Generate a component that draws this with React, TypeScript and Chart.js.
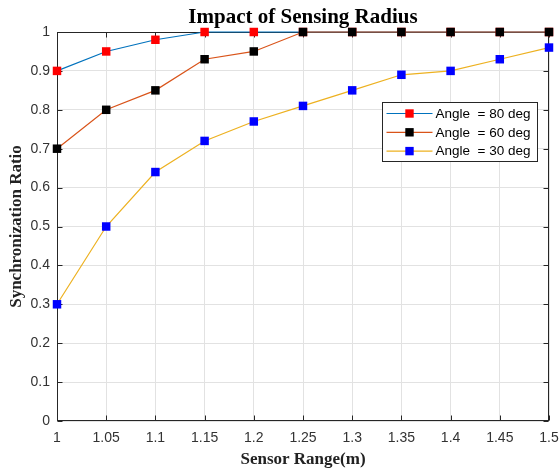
import React, { useEffect, useRef } from 'react';
import { Chart, registerables } from 'chart.js';

Chart.register(...registerables);

const xLabels = ['1', '1.05', '1.1', '1.15', '1.2', '1.25', '1.3', '1.35', '1.4', '1.45', '1.5'];
const angle80 = [0.9, 0.95, 0.98, 1, 1, 1, 1, 1, 1, 1, 1];
const angle60 = [0.7, 0.8, 0.85, 0.93, 0.95, 1, 1, 1, 1, 1, 1];
const angle30 = [0.3, 0.5, 0.64, 0.72, 0.77, 0.81, 0.85, 0.89, 0.9, 0.93, 0.96];
const seriesLabels = ['Angle  = 80 deg', 'Angle  = 60 deg', 'Angle  = 30 deg'];
const yTickValues = [0, 0.1, 0.2, 0.3, 0.4, 0.5, 0.6, 0.7, 0.8, 0.9, 1];
const yTickLabels = ['0', '0.1', '0.2', '0.3', '0.4', '0.5', '0.6', '0.7', '0.8', '0.9', '1'];
const chartTitle = 'Impact of Sensing Radius';
const xTitle = 'Sensor Range(m)';
const yTitle = 'Synchronization Ratio';

const lineColors = ['#0072BD', '#D95319', '#EDB120'];
const markerColors = ['#FF0000', '#000000', '#0000FF'];
const AXIS = '#262626';
const SANS = '"Liberation Sans", Arial, sans-serif';
const SERIF = '"Liberation Serif", "Times New Roman", serif';

const titlePlugin = {
  id: 'matlabTitle',
  afterDraw(chart: any) {
    const { ctx, chartArea } = chart;
    ctx.save();
    ctx.fillStyle = '#000';
    ctx.font = `bold 21px ${SERIF}`;
    ctx.textAlign = 'center';
    ctx.textBaseline = 'alphabetic';
    ctx.fillText(chartTitle, (chartArea.left + chartArea.right) / 2, 23);
    ctx.restore();
  },
};

const boxPlugin = {
  id: 'matlabBox',
  beforeDatasetsDraw(chart: any) {
    const { ctx, chartArea, scales } = chart;
    const l = Math.round(chartArea.left) + 0.5;
    const r = Math.round(chartArea.right) - 0.5;
    const t = Math.round(chartArea.top) + 0.5;
    const b = Math.round(chartArea.bottom) - 0.5;
    ctx.save();
    ctx.strokeStyle = AXIS;
    ctx.lineWidth = 1;
    ctx.strokeRect(l, t, r - l, b - t);
    const tl = 5;
    ctx.beginPath();
    xLabels.forEach((_, i) => {
      const px = Math.round(scales.x.getPixelForValue(i)) + 0.5;
      ctx.moveTo(px, b);
      ctx.lineTo(px, b - tl);
      ctx.moveTo(px, t);
      ctx.lineTo(px, t + tl);
    });
    yTickValues.forEach((v) => {
      const py = Math.round(scales.y.getPixelForValue(v)) + 0.5;
      ctx.moveTo(l, py);
      ctx.lineTo(l + tl, py);
      ctx.moveTo(r, py);
      ctx.lineTo(r - tl, py);
    });
    ctx.stroke();
    ctx.restore();
  },
};

const legendPlugin = {
  id: 'matlabLegend',
  afterDatasetsDraw(chart: any) {
    const { ctx, chartArea } = chart;
    const bx = Math.round(chartArea.right) - 167 + 0.5;
    const by = Math.round(chartArea.top) + 70 + 0.5;
    const bw = 155;
    const bh = 59;
    ctx.save();
    ctx.fillStyle = '#fff';
    ctx.fillRect(bx, by, bw, bh);
    ctx.strokeStyle = AXIS;
    ctx.lineWidth = 1;
    ctx.strokeRect(bx, by, bw, bh);
    chart.data.datasets.forEach((ds: any, i: number) => {
      const y = by + 11 + i * 18.8;
      ctx.strokeStyle = ds.borderColor;
      ctx.lineWidth = 1.2;
      ctx.beginPath();
      ctx.moveTo(bx + 4, y);
      ctx.lineTo(bx + 50, y);
      ctx.stroke();
      ctx.fillStyle = ds.pointBackgroundColor;
      ctx.fillRect(bx + 27 - 4.2, y - 4.2, 8.4, 8.4);
      ctx.fillStyle = '#000';
      ctx.font = `13.5px ${SANS}`;
      ctx.textAlign = 'left';
      ctx.textBaseline = 'middle';
      ctx.fillText(ds.label, bx + 53, y + 0.5);
    });
    ctx.restore();
  },
};

export default function App() {
  const canvasRef = useRef<HTMLCanvasElement | null>(null);

  useEffect(() => {
    document.body.style.margin = '0';
    const canvas = canvasRef.current;
    if (!canvas) return;
    const seriesData = [angle80, angle60, angle30];
    const chart = new Chart(canvas, {
      type: 'line',
      data: {
        labels: xLabels,
        datasets: seriesData.map((d, i) => ({
          label: seriesLabels[i],
          data: d,
          borderColor: lineColors[i],
          backgroundColor: lineColors[i],
          borderWidth: 1.2,
          pointStyle: 'rect',
          pointRadius: 6,
          pointHoverRadius: 6,
          pointBackgroundColor: markerColors[i],
          pointBorderColor: markerColors[i],
          pointBorderWidth: 0,
          tension: 0,
          fill: false,
          clip: false,
          order: 3 - i,
        })),
      },
      options: {
        responsive: false,
        animation: false,
        layout: { padding: { top: 32, right: 11, left: 0, bottom: 0 } },
        plugins: {
          legend: { display: false },
          title: { display: false },
          tooltip: { enabled: false },
        },
        scales: {
          x: {
            type: 'category',
            offset: false,
            grid: { color: '#e2e2e2', drawTicks: false, lineWidth: 1 },
            border: { display: false },
            ticks: {
              color: '#333',
              font: { family: SANS, size: 14 },
              padding: 9,
              maxRotation: 0,
              autoSkip: false,
            },
            title: {
              display: true,
              text: xTitle,
              color: '#222',
              font: { family: SERIF, size: 17, weight: 'bold' },
              padding: { top: 0, bottom: 1 },
            },
            afterFit: (scale: any) => {
              scale.height = 50;
              scale.paddingLeft = 0;
              scale.paddingRight = 0;
            },
          },
          y: {
            type: 'linear',
            min: 0,
            max: 1,
            grid: { color: '#e2e2e2', drawTicks: false, lineWidth: 1 },
            border: { display: false },
            afterBuildTicks: (scale: any) => {
              scale.ticks = yTickValues.map((v) => ({ value: v }));
            },
            ticks: {
              color: '#333',
              font: { family: SANS, size: 14 },
              padding: 7,
              callback: (v: any) => {
                const idx = yTickValues.findIndex((t) => Math.abs(t - Number(v)) < 1e-9);
                return idx >= 0 ? yTickLabels[idx] : '';
              },
            },
            title: {
              display: true,
              text: yTitle,
              color: '#222',
              font: { family: SERIF, size: 17, weight: 'bold' },
              padding: { top: 6, bottom: 0 },
            },
            afterFit: (scale: any) => {
              scale.width = 57;
              scale.paddingTop = 0;
              scale.paddingBottom = 0;
            },
          },
        },
      },
      plugins: [titlePlugin, boxPlugin, legendPlugin],
    } as any);
    return () => {
      chart.destroy();
    };
  }, []);

  return (
    <div style={{ width: 560, height: 471 }}>
      <canvas ref={canvasRef} width={560} height={471} />
    </div>
  );
}
